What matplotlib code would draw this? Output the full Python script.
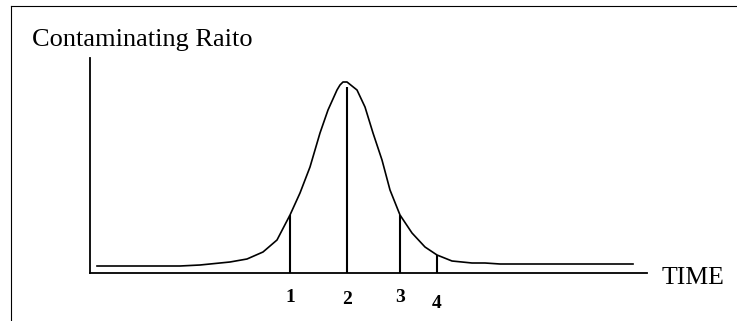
import matplotlib
matplotlib.use("Agg")
import matplotlib.pyplot as plt
from matplotlib.lines import Line2D

# curve (time, contaminating ratio), arbitrary units
time  = [7, 90, 110, 120, 140, 157, 173, 187, 200, 210, 220, 230, 238, 247,
         250, 253, 257, 262, 267, 275, 283, 292, 300, 310, 322, 335, 347,
         362, 382, 395, 410, 543]
ratio = [7, 7, 8, 9, 11, 14, 21, 33, 58, 80, 106, 140, 163, 183,
         188, 191, 191, 187, 183, 166, 140, 113, 83, 58, 40, 26, 18,
         12, 10, 10, 9, 9]

# marked instants and the curve height where each line stops
mark_t   = [200, 257, 310, 347]
mark_h   = [58, 186, 58, 18]
mark_lbl = ["1", "2", "3", "4"]
mark_dy  = [-25, -27, -24, -30]

W, H = 737, 321
fig = plt.figure(figsize=(W / 100, H / 100), dpi=100, facecolor="white")
ax = fig.add_axes([90 / W, (H - 273) / H, (647 - 90) / W, (273 - 58) / H])
ax.set_xlim(0, 557)
ax.set_ylim(0, 215)
ax.set_facecolor("white")
for s in ("top", "right"):
    ax.spines[s].set_visible(False)
for s in ("left", "bottom"):
    ax.spines[s].set_linewidth(1.3)
    ax.spines[s].set_color("black")
ax.set_xticks([]); ax.set_yticks([])

ax.plot(time, ratio, color="black", linewidth=1.2, clip_on=False,
        solid_joinstyle="round")
ax.vlines(mark_t, 0, mark_h, color="black", linewidth=1.5)

serif = "Liberation Serif"
for t, lbl, dy in zip(mark_t, mark_lbl, mark_dy):
    ax.text(t, dy, lbl, fontsize=14, fontweight="bold", family=serif,
            ha="center", va="center", clip_on=False)
ax.text(572, -5, "TIME", fontsize=18.5, family=serif, ha="left", va="center",
        clip_on=False)

fig.text(32 / W, 1 - 40 / H, "Contaminating Raito", fontsize=19, family=serif,
         ha="left", va="center")

# scanned frame: left and top edges
fig.add_artist(Line2D([11 / W, 11 / W], [0, 1 - 6 / H], color="black",
                      linewidth=0.8, transform=fig.transFigure))
fig.add_artist(Line2D([11 / W, 1], [1 - 6 / H, 1 - 6 / H], color="black",
                      linewidth=0.8, transform=fig.transFigure))

fig.savefig("out.png", dpi=100, facecolor="white")
